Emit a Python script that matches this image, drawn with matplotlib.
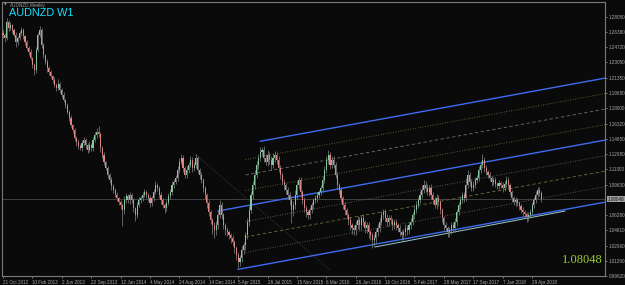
import numpy as np
import matplotlib.pyplot as plt

#   Weekly AUDNZD closes, bar 0 = week of 21 Oct 2012
closes = [
    1.2604, 1.2571, 1.2747, 1.2681, 1.2714, 1.2659, 1.2604, 1.2528, 1.2571, 1.2626,
    1.2659, 1.2593, 1.2528, 1.2462, 1.2418, 1.2352, 1.2275, 1.2220, 1.2440, 1.2604,
    1.2659, 1.2495, 1.2385, 1.2308, 1.2242, 1.2199, 1.2155, 1.2111, 1.2056, 1.2023,
    1.2067, 1.2001, 1.1946, 1.1892, 1.1837, 1.1760, 1.1694, 1.1617, 1.1563, 1.1475,
    1.1431, 1.1387, 1.1365, 1.1420, 1.1453, 1.1398, 1.1343, 1.1398, 1.1365, 1.1453,
    1.1508, 1.1541, 1.1519, 1.1365, 1.1288, 1.1212, 1.1146, 1.1069, 1.1014, 1.0949,
    1.0905, 1.0850, 1.0817, 1.0773, 1.0740, 1.0685, 1.0795, 1.0839, 1.0795, 1.0850,
    1.0795, 1.0707, 1.0631, 1.0740, 1.0795, 1.0817, 1.0850, 1.0883, 1.0850, 1.0817,
    1.0762, 1.0817, 1.0883, 1.0960, 1.0927, 1.0850, 1.0795, 1.0740, 1.0707, 1.0762,
    1.0839, 1.0883, 1.0960, 1.0992, 1.1036, 1.1124, 1.1212, 1.1256, 1.1146, 1.1069,
    1.1124, 1.1179, 1.1234, 1.1146, 1.1179, 1.1256, 1.1124, 1.1069, 1.1014, 1.0927,
    1.0850, 1.0762, 1.0663, 1.0576, 1.0521, 1.0466, 1.0521, 1.0631, 1.0740, 1.0631,
    1.0521, 1.0466, 1.0444, 1.0411, 1.0378, 1.0335, 1.0269, 1.0192, 1.0115, 1.0159,
    1.0247, 1.0302, 1.0411, 1.0554, 1.0685, 1.0850, 1.0960, 1.1069, 1.1179, 1.1256,
    1.1321, 1.1343, 1.1256, 1.1212, 1.1288, 1.1234, 1.1179, 1.1256, 1.1288, 1.1234,
    1.1146, 1.1069, 1.0992, 1.0960, 1.0905, 1.0850, 1.0795, 1.0685, 1.0740, 1.0850,
    1.0960, 1.1014, 1.0883, 1.0795, 1.0707, 1.0663, 1.0631, 1.0685, 1.0740, 1.0795,
    1.0817, 1.0850, 1.0883, 1.0927, 1.1014, 1.1124, 1.1234, 1.1288, 1.1179, 1.1234,
    1.1179, 1.1069, 1.0960, 1.0905, 1.0817, 1.0740, 1.0685, 1.0631, 1.0576, 1.0521,
    1.0488, 1.0466, 1.0521, 1.0576, 1.0521, 1.0598, 1.0554, 1.0488, 1.0521, 1.0444,
    1.0411, 1.0356, 1.0378, 1.0444, 1.0488, 1.0554, 1.0631, 1.0663, 1.0598, 1.0554,
    1.0598, 1.0576, 1.0521, 1.0554, 1.0521, 1.0488, 1.0444, 1.0411, 1.0444, 1.0488,
    1.0466, 1.0521, 1.0554, 1.0631, 1.0685, 1.0740, 1.0795, 1.0850, 1.0905, 1.0960,
    1.0927, 1.0883, 1.0927, 1.0850, 1.0795, 1.0740, 1.0817, 1.0773, 1.0685, 1.0598,
    1.0521, 1.0488, 1.0444, 1.0466, 1.0521, 1.0488, 1.0554, 1.0663, 1.0740, 1.0795,
    1.0850, 1.0817, 1.0960, 1.1069, 1.0992, 1.0927, 1.0960, 1.1014, 1.1036, 1.1124,
    1.1179, 1.1234, 1.1146, 1.1102, 1.1069, 1.1036, 1.0992, 1.1014, 1.0970, 1.0949,
    1.0981, 1.0960, 1.0927, 1.0970, 1.1014, 1.0960, 1.0883, 1.0817, 1.0773, 1.0795,
    1.0762, 1.0729, 1.0685, 1.0663, 1.0642, 1.0609, 1.0631, 1.0663, 1.0740, 1.0795,
    1.0850, 1.0905, 1.0872, 1.08048,
]
first_open = 1.2630
# wick lengths in pips above / below the body
up_wick = [
    30, 25, 40, 20, 35, 15, 25, 30, 20, 25,
    30, 20, 15, 25, 20, 30, 15, 25, 30, 35,
    45, 20, 25, 15, 30, 20, 25, 15, 30, 20,
    50, 25, 20, 30, 15, 25, 20, 30, 15, 25,
    20, 30, 25, 35, 30, 20, 25, 40, 20, 35,
    30, 45, 65, 25, 20, 30, 15, 25, 20, 30,
    25, 20, 30, 15, 25, 20, 40, 30, 25, 35,
    20, 25, 15, 30, 35, 25, 30, 35, 20, 25,
    30, 25, 35, 40, 25, 20, 30, 25, 20, 35,
    30, 35, 40, 30, 35, 40, 45, 45, 30, 25,
    40, 35, 45, 30, 35, 45, 25, 20, 30, 20,
    25, 20, 30, 25, 20, 35, 40, 45, 55, 30,
    25, 20, 30, 25, 20, 30, 20, 25, 30, 35,
    40, 30, 35, 45, 50, 40, 45, 50, 40, 45,
    50, 35, 45, 40, 55, 35, 40, 50, 45, 35,
    40, 30, 35, 30, 25, 35, 30, 40, 45, 50,
    40, 35, 30, 25, 35, 30, 25, 35, 30, 25,
    30, 35, 25, 30, 40, 45, 40, 55, 35, 40,
    45, 35, 30, 25, 30, 25, 30, 25, 20, 30,
    25, 30, 45, 40, 30, 35, 40, 25, 30, 35,
    25, 30, 40, 35, 40, 45, 40, 35, 30, 40,
    35, 30, 25, 35, 30, 25, 30, 25, 35, 40,
    30, 35, 40, 35, 40, 45, 35, 40, 55, 50,
    45, 40, 35, 40, 30, 35, 40, 30, 25, 20,
    25, 30, 25, 35, 30, 35, 40, 35, 30, 40,
    35, 30, 75, 60, 35, 30, 40, 35, 30, 45,
    45, 65, 35, 30, 25, 30, 25, 35, 30, 25,
    30, 25, 30, 35, 40, 30, 25, 20, 25, 30,
    25, 20, 25, 30, 25, 20, 30, 35, 30, 35,
    40, 35, 30, 25,
]
dn_wick = [
    35, 45, 25, 30, 20, 30, 25, 55, 30, 25,
    20, 30, 35, 25, 30, 20, 35, 55, 30, 25,
    20, 35, 30, 25, 40, 30, 25, 30, 20, 35,
    25, 30, 35, 20, 30, 25, 35, 20, 30, 35,
    40, 35, 25, 30, 35, 40, 30, 25, 35, 30,
    25, 30, 35, 40, 30, 35, 25, 30, 35, 40,
    30, 25, 35, 30, 40, 180, 45, 35, 30, 40,
    35, 40, 70, 30, 25, 35, 30, 25, 35, 30,
    45, 35, 30, 25, 35, 30, 40, 35, 55, 30,
    25, 30, 35, 30, 25, 35, 30, 25, 40, 35,
    30, 35, 25, 40, 30, 35, 30, 40, 35, 40,
    45, 50, 40, 45, 100, 90, 50, 40, 35, 45,
    40, 50, 45, 40, 55, 45, 50, 60, 65, 40,
    45, 40, 50, 45, 40, 35, 45, 40, 35, 40,
    35, 40, 45, 35, 40, 45, 50, 35, 40, 45,
    40, 45, 35, 50, 40, 45, 50, 140, 60, 45,
    40, 45, 50, 40, 45, 50, 45, 40, 35, 40,
    35, 40, 30, 35, 40, 35, 30, 40, 45, 35,
    30, 35, 40, 45, 40, 45, 50, 45, 50, 55,
    60, 55, 50, 45, 60, 50, 45, 55, 50, 60,
    55, 90, 60, 50, 45, 40, 35, 40, 45, 40,
    45, 40, 50, 45, 50, 45, 40, 55, 50, 45,
    50, 45, 40, 35, 40, 35, 30, 35, 30, 35,
    40, 35, 40, 45, 40, 35, 40, 45, 40, 45,
    50, 45, 55, 50, 45, 40, 45, 40, 35, 40,
    35, 40, 30, 35, 40, 35, 30, 35, 30, 35,
    30, 35, 40, 35, 30, 35, 40, 35, 30, 35,
    30, 35, 40, 35, 30, 40, 35, 40, 35, 40,
    35, 40, 35, 40, 45, 55, 40, 35, 30, 35,
    30, 25, 35, 30,
]

date_labels = ['21 Oct 2012', '10 Feb 2013', '2 Jun 2013', '22 Sep 2013', '12 Jan 2014',
               '4 May 2014', '24 Aug 2014', '14 Dec 2014', '5 Apr 2015', '26 Jul 2015',
               '15 Nov 2015', '6 Mar 2016', '26 Jun 2016', '16 Oct 2016', '5 Feb 2017',
               '28 May 2017', '17 Sep 2017', '7 Jan 2018', '29 Apr 2018']
date_bars = [0, 16, 32, 48, 64, 80, 96, 112, 128, 144, 160, 176, 192, 208, 224, 240, 256, 272, 288]
price_ticks = [0.99620, 1.01290, 1.02960, 1.04610, 1.06280, 1.09630, 1.11300, 1.12980, 1.14650,
               1.16320, 1.18000, 1.19680, 1.21350, 1.23050, 1.24720, 1.26380, 1.28050]
last_price = 1.08048

# channel objects drawn on the chart
chan_base_bar = 128
chan_base_price = 1.0035
chan_slope = 0.000369     # price per bar
chan_width = 0.0680
chan_levels = [0, 0.25, 0.5, 0.75, 1, 1.25, 1.5, 1.75, 2]
chan_start = [128, 132, 132, 132, 117, 132, 132, 132, 140]
chan_end = 327.7
support_bars = [202.5, 305.9]
support_prices = [1.0280, 1.0674]
handle_bars = [104.5, 178.0]
handle_prices = [1.1299, 1.0028]

BG = '#0a0a0a'
BULL = '#82c7a0'
BEAR = '#dc8585'
WICK = '#7a7a7a'
BLUE = '#3d6cf0'
TXT = '#a8a8a8'

c = np.array(closes)
o = np.concatenate([[first_open], c[:-1]])
hi = np.maximum(o, c) + np.array(up_wick) * 1e-4
lo = np.minimum(o, c) - np.array(dn_wick) * 1e-4
x = np.arange(len(c))

fig = plt.figure(figsize=(6.25, 2.85), dpi=100, facecolor=BG)
ax = fig.add_axes([2/625, 9/285, 603/625, 274/285], facecolor=BG)

# current price line
ax.axhline(last_price, color='#4a4a4a', lw=0.6, zorder=1)
# faint handle line
ax.plot(handle_bars, handle_prices, color='#262626', lw=0.5, zorder=1)

# channel
styles = {0: ('-', BLUE, 1.0), 0.25: ((0, (1, 2)), '#6e6e6e', 0.6), 0.5: ((0, (4, 3)), '#6f6f38', 0.6),
          0.75: ((0, (1, 2)), '#6e6e6e', 0.6), 1: ('-', BLUE, 1.0), 1.25: ((0, (1, 2)), '#77773c', 0.6),
          1.5: ((0, (4, 3)), '#6e6e6e', 0.6), 1.75: ((0, (1, 2)), '#77773c', 0.6), 2: ('-', BLUE, 1.0)}
for lev, st in zip(chan_levels, chan_start):
    ls, col, lw = styles[lev]
    xs = np.array([st, chan_end])
    ys = chan_base_price + chan_slope * (xs - chan_base_bar) + lev * chan_width
    ax.plot(xs, ys, ls=ls, color=col, lw=lw, zorder=2)
ax.plot(support_bars, support_prices, color='#9cc8c8', lw=0.7, zorder=2)

# candles
ax.vlines(x, lo, hi, color=WICK, lw=0.55, zorder=3)
bull = c >= o
body = np.maximum(np.abs(c - o), 0.0006)
ax.bar(x[bull], body[bull], bottom=np.minimum(o, c)[bull], width=0.6, color=BULL, lw=0, zorder=4)
ax.bar(x[~bull], body[~bull], bottom=np.minimum(o, c)[~bull], width=0.6, color=BEAR, lw=0, zorder=4)

ax.set_xlim(-0.544, 327.7)
ax.set_ylim(0.9962, 1.29664)

for s in ax.spines.values():
    s.set_color('#7a7a7a')
    s.set_linewidth(0.8)

ax.set_xticks(date_bars)
ax.set_xticklabels(date_labels, ha='left')
ax.yaxis.tick_right()
ax.set_yticks(price_ticks)
ax.set_yticklabels([f'{v:.5f}' for v in price_ticks])
ax.tick_params(axis='x', length=1.5, width=0.5, pad=1.2, labelsize=3.3, colors=TXT)
ax.tick_params(axis='y', length=1.5, width=0.5, pad=1.2, labelsize=3.3, colors=TXT)
for lab in ax.get_xticklabels() + ax.get_yticklabels():
    lab.set_family('Liberation Sans')

# price label box on the axis
ax.annotate(f'{last_price:.5f}', xy=(1.0, last_price), xycoords=('axes fraction', 'data'),
            xytext=(2.2, 0), textcoords='offset points', va='center', ha='left',
            fontsize=3.3, family='Liberation Sans', color='#101010',
            bbox=dict(boxstyle='square,pad=0.15', fc='#a0a0a0', ec='none'), annotation_clip=False)

# header texts
fig.text(4/625, 1 - 5/285, '\u25bc', fontsize=2.5, color='#9a9a9a', va='center', ha='left')
fig.text(10/625, 1 - 5/285, 'AUDNZD,Weekly', fontsize=3.3, color='#9a9a9a', va='center', ha='left',
         family='Liberation Sans')
fig.text(9/625, 1 - 12.5/285, 'AUDNZD W1', fontsize=7.8, color='#12e0ff', va='center', ha='left',
         family='Liberation Sans')
ax.text(0.9967, 0.058, f'{last_price:.5f}', transform=ax.transAxes, ha='right', va='center',
        fontsize=9, family='Liberation Serif', color='#9acd32')

fig.savefig('out.png', dpi=100, facecolor=BG)
